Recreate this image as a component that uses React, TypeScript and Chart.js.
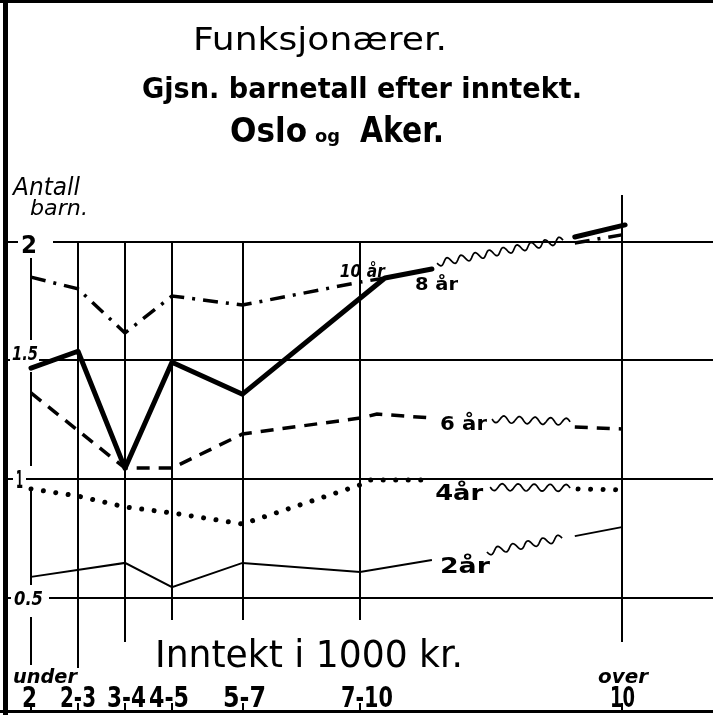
import React, { useEffect, useRef } from "react";
import { Chart, registerables } from "chart.js";

Chart.register(...registerables);

// ---------- data ----------
const categoryLabels = ["2", "2-3", "3-4", "4-5", "5-7", "7-10", "10"];
const categoryPrefix = ["under", "", "", "", "", "", "over"];
const categoryX = [1.5, 2.5, 3.5, 4.5, 6, 8.5, 14.07];
const yTicks = [0.5, 1, 1.5, 2];
const yTickLabels = ["0.5", "1", "1.5", "2"];

// 10 år (dash-dot)
const x10 = [1.5, 2.5, 3.5, 4.5, 6, 8.5, 9.03, 13.07, 14.07];
const y10 = [1.852, 1.802, 1.616, 1.772, 1.734, 1.831, 1.848, 1.996, 2.03];
const seg10 = ["line", "line", "line", "line", "line", "line", "gap", "line"];

// 8 år (thick solid)
const x8 = [1.5, 2.5, 3.5, 4.5, 6, 9.03, 10.03, 10.14, 12.82, 13.07, 14.14];
const y8 = [1.468, 1.539, 1.045, 1.493, 1.358, 1.848, 1.886, 1.911, 2.008, 2.021, 2.072];
const seg8 = ["line", "line", "line", "line", "line", "line", "gap", "wave", "gap", "line"];

// 6 år (dashed)
const x6 = [1.5, 3.5, 4.5, 6, 8.5, 8.86, 10.05, 11.31, 12.97, 13.07, 14.07];
const y6 = [1.363, 1.046, 1.046, 1.19, 1.257, 1.274, 1.257, 1.253, 1.241, 1.219, 1.211];
const seg6 = ["line", "line", "line", "line", "line", "line", "gap", "wave", "gap", "line"];

// 4 år (dotted)
const x4 = [1.5, 2.5, 3.5, 4.5, 6, 8.5, 8.7, 10.05, 11.27, 12.97, 13.14, 14.07];
const y4 = [0.958, 0.928, 0.882, 0.857, 0.81, 0.975, 0.996, 0.996, 0.966, 0.962, 0.958, 0.954];
const seg4 = ["line", "line", "line", "line", "line", "line", "line", "gap", "wave", "gap", "line"];

// 2 år (thin solid)
const x2 = [1.5, 3.5, 4.5, 6, 8.5, 10.03, 11.2, 12.8, 13.07, 14.07];
const y2 = [0.587, 0.646, 0.544, 0.646, 0.608, 0.658, 0.692, 0.751, 0.759, 0.797];
const seg2 = ["line", "line", "line", "line", "line", "gap", "wave", "gap", "line"];

const seriesNames = ["10 år", "8 år", "6 år", "4år", "2år"];
// label anchor in data coordinates (left x, baseline y)
const seriesLabelX = [8.07, 9.67, 10.2, 10.1, 10.2];
const seriesLabelY = [1.852, 1.797, 1.207, 0.911, 0.603];

// ---------- layout ----------
const W = 713;
const H = 715;
const PX_PER_X = 47;
const X0_VAL = 1.5;
const X0_PX = 31;
const PX_PER_Y = 237;
const Y0_VAL = 2;
const Y0_PX = 242;
const X_MIN = X0_VAL - X0_PX / PX_PER_X;
const X_MAX = X0_VAL + (W - X0_PX) / PX_PER_X;
const Y_MAX = Y0_VAL + Y0_PX / PX_PER_Y;
const Y_MIN = Y0_VAL - (H - Y0_PX) / PX_PER_Y;

const FONT = '"DejaVu Sans", sans-serif';

function fit(ctx: CanvasRenderingContext2D, text: string, left: number, right: number, baseline: number, font: string) {
  ctx.font = font;
  const w = ctx.measureText(text).width;
  const sx = (right - left) / w;
  ctx.save();
  ctx.translate(left, baseline);
  ctx.scale(sx, 1);
  ctx.textAlign = "left";
  ctx.textBaseline = "alphabetic";
  ctx.fillText(text, 0, 0);
  ctx.restore();
}

const VLINE_BOTTOM = [665, 668, 642, 620, 620, 620, 642];
const Y_LABEL_BOX: Record<string, [number, number, number, string]> = {
  "2": [21, 37, 253, `bold 25px ${FONT}`],
  "1.5": [12, 38, 360, `italic bold 20px ${FONT}`],
  "1": [16, 23, 488, `bold 24px ${FONT}`],
  "0.5": [14, 43, 605, `italic bold 20px ${FONT}`],
};
const Y_GAP: Record<string, [number, number]> = {
  "2": [18, 53],
  "1.5": [10, 39],
  "1": [13, 26],
  "0.5": [11, 49],
};
const CAT_BOX = [
  [22, 37],
  [60, 96],
  [107, 146],
  [149, 189],
  [223, 266],
  [341, 393],
  [610, 635],
];
const PREFIX_BOX: Record<string, [number, number]> = {
  under: [13, 77],
  over: [598, 648],
};
const SERIES_LABEL_W = [45, 43, 47, 48, 50];
const SERIES_LABEL_FONT = [
  `italic bold 18px ${FONT}`,
  `bold 18px ${FONT}`,
  `bold 20px ${FONT}`,
  `bold 21px ${FONT}`,
  `bold 22px ${FONT}`,
];

const segTypes = [seg10, seg8, seg6, seg4, seg2];

const decor = {
  id: "decor",
  beforeDraw(chart: any) {
    const ctx = chart.ctx;
    ctx.save();
    ctx.fillStyle = "#fff";
    ctx.fillRect(0, 0, W, H);
    ctx.restore();
  },
  beforeDatasetsDraw(chart: any) {
    const ctx: CanvasRenderingContext2D = chart.ctx;
    const xs = chart.scales.x;
    const ys = chart.scales.y;
    ctx.save();
    ctx.strokeStyle = "#000";
    ctx.fillStyle = "#000";

    // frame
    ctx.fillRect(3, 0, 5, H);
    ctx.fillRect(0, 0, W, 3);
    ctx.fillRect(0, 710, W, 3);

    // horizontal grid lines with y labels
    ctx.lineWidth = 2;
    yTicks.forEach((v, i) => {
      const y = Math.round(ys.getPixelForValue(v));
      const lab = yTickLabels[i];
      const gap = Y_GAP[lab];
      ctx.beginPath();
      ctx.moveTo(8, y);
      ctx.lineTo(gap[0], y);
      ctx.moveTo(gap[1], y);
      ctx.lineTo(W, y);
      ctx.stroke();
      const b = Y_LABEL_BOX[lab];
      fit(ctx, lab, b[0], b[1], b[2], b[3]);
    });

    // vertical category lines
    const yTop = ys.getPixelForValue(2);
    categoryX.forEach((v, i) => {
      const x = Math.round(xs.getPixelForValue(v));
      const top = i === categoryX.length - 1 ? 195 : yTop;
      const bottom = VLINE_BOTTOM[i];
      ctx.lineWidth = 2;
      ctx.beginPath();
      if (i === 0) {
        const gaps = [
          [340, 372],
          [466, 490],
          [585, 617],
        ];
        let cur = 258;
        for (let g = 0; g < gaps.length; g++) {
          ctx.moveTo(x, cur);
          ctx.lineTo(x, gaps[g][0]);
          cur = gaps[g][1];
        }
        ctx.moveTo(x, cur);
        ctx.lineTo(x, bottom);
      } else {
        ctx.moveTo(x, top);
        ctx.lineTo(x, bottom);
      }
      ctx.moveTo(x, 703);
      ctx.lineTo(x, 711);
      ctx.stroke();
    });

    // category labels
    categoryLabels.forEach((lab, i) => {
      const b = CAT_BOX[i];
      fit(ctx, lab, b[0], b[1], 707, `bold 28px ${FONT}`);
      const pre = categoryPrefix[i];
      if (pre) {
        const pb = PREFIX_BOX[pre];
        fit(ctx, pre, pb[0], pb[1], 683, `italic bold 20px ${FONT}`);
      }
    });

    // axis titles
    fit(ctx, "Inntekt i 1000 kr.", 155, 463, 667, `37px ${FONT}`);
    fit(ctx, "Antall", 13, 80, 195, `italic 24px ${FONT}`);
    fit(ctx, "barn.", 30, 88, 215, `italic 22px ${FONT}`);

    // titles
    fit(ctx, "Funksjonærer.", 193, 447, 50, `32px ${FONT}`);
    fit(ctx, "Gjsn. barnetall efter inntekt.", 142, 582, 98, `bold 28px ${FONT}`);
    fit(ctx, "Oslo", 230, 307, 142, `bold 34px ${FONT}`);
    fit(ctx, "og", 315, 340, 142, `bold 18px ${FONT}`);
    fit(ctx, "Aker.", 360, 444, 142, `bold 35px ${FONT}`);

    ctx.restore();
  },
  afterDatasetsDraw(chart: any) {
    const ctx: CanvasRenderingContext2D = chart.ctx;
    const xs = chart.scales.x;
    const ys = chart.scales.y;
    ctx.save();
    ctx.strokeStyle = "#000";
    ctx.fillStyle = "#000";
    ctx.lineWidth = 1.7;
    ctx.setLineDash([]);
    chart.data.datasets.forEach((ds: any, di: number) => {
      const meta = chart.getDatasetMeta(di);
      const types = segTypes[di];
      types.forEach((t: string, si: number) => {
        if (t !== "wave") return;
        const p0 = meta.data[si];
        const p1 = meta.data[si + 1];
        const dx = p1.x - p0.x;
        const dy = p1.y - p0.y;
        const L = Math.hypot(dx, dy);
        const ux = dx / L;
        const uy = dy / L;
        const nx = -uy;
        const ny = ux;
        const periods = Math.max(1, Math.round(L / 15));
        const amp = 3.5;
        ctx.beginPath();
        const steps = Math.ceil(L);
        for (let s = 0; s <= steps; s++) {
          const d = (s / steps) * L;
          const off = amp * Math.sin((d / L) * periods * Math.PI * 2);
          const px = p0.x + ux * d + nx * off;
          const py = p0.y + uy * d + ny * off;
          if (s === 0) ctx.moveTo(px, py);
          else ctx.lineTo(px, py);
        }
        ctx.stroke();
      });
    });
    seriesNames.forEach((name, i) => {
      const left = xs.getPixelForValue(seriesLabelX[i]);
      const base = ys.getPixelForValue(seriesLabelY[i]);
      fit(ctx, name, left, left + SERIES_LABEL_W[i], base, SERIES_LABEL_FONT[i]);
    });
    ctx.restore();
  },
};

function pts(xs: number[], ys: number[]) {
  return xs.map((x, i) => ({ x, y: ys[i] }));
}

function segColor(types: string[]) {
  return (c: any) => (types[c.p0DataIndex] === "line" ? "#000" : "rgba(0,0,0,0)");
}

export default function App() {
  const ref = useRef<HTMLCanvasElement | null>(null);
  useEffect(() => {
    if (!ref.current) return;
    const chart = new Chart(ref.current, {
      type: "line",
      data: {
        datasets: [
          {
            label: "10 år",
            data: pts(x10, y10),
            borderColor: "#000",
            borderWidth: 3.5,
            borderDash: [15, 8, 3, 8],
            segment: { borderColor: segColor(seg10) },
          },
          {
            label: "8 år",
            data: pts(x8, y8),
            borderColor: "#000",
            borderWidth: 5,
            borderCapStyle: "round",
            borderJoinStyle: "round",
            segment: { borderColor: segColor(seg8) },
          },
          {
            label: "6 år",
            data: pts(x6, y6),
            borderColor: "#000",
            borderWidth: 3.5,
            borderDash: [13, 9],
            segment: { borderColor: segColor(seg6) },
          },
          {
            label: "4 år",
            data: pts(x4, y4),
            borderColor: "#000",
            borderWidth: 5,
            borderDash: [0.01, 12.5],
            borderCapStyle: "round",
            segment: { borderColor: segColor(seg4) },
          },
          {
            label: "2 år",
            data: pts(x2, y2),
            borderColor: "#000",
            borderWidth: 2,
            segment: { borderColor: segColor(seg2) },
          },
        ] as any,
      },
      options: {
        animation: false,
        responsive: false,
        maintainAspectRatio: false,
        devicePixelRatio: 1,
        layout: { padding: 0 },
        elements: { point: { radius: 0, hoverRadius: 0 }, line: { tension: 0 } },
        clip: false as any,
        plugins: { legend: { display: false }, tooltip: { enabled: false }, title: { display: false } },
        scales: {
          x: { type: "linear", min: X_MIN, max: X_MAX, display: false },
          y: { type: "linear", min: Y_MIN, max: Y_MAX, display: false },
        },
        events: [],
      },
      plugins: [decor],
    });
    return () => chart.destroy();
  }, []);
  return (
    <div style={{ position: "fixed", left: 0, top: 0, width: W, height: H, background: "#fff" }}>
      <canvas ref={ref} width={W} height={H} style={{ display: "block", width: W, height: H }} />
    </div>
  );
}
